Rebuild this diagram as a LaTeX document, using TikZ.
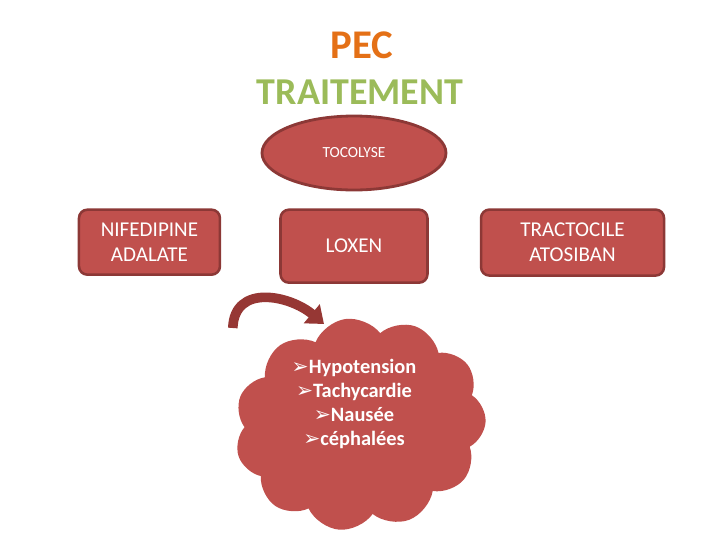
\documentclass[tikz,border=0pt]{standalone}
\usepackage{fontspec}
\setmainfont{Carlito}
\newfontfamily\symfont{DejaVu Sans}
\usetikzlibrary{positioning, arrows.meta, shapes.geometric, shapes.symbols}
\definecolor{boxred}{RGB}{192,80,77}
\definecolor{boxedge}{RGB}{140,56,54}
\definecolor{arrred}{RGB}{150,55,52}
\definecolor{pecorange}{RGB}{228,112,22}
\definecolor{titlegreen}{RGB}{155,187,89}

\begin{document}
\begin{tikzpicture}[
    title/.style={font=\bfseries, align=center},
    redbox/.style={draw=boxedge, fill=boxred, line width=1.8pt, rectangle, rounded corners=6pt, text=white, align=center, font=\fontsize{15}{18}\selectfont},
    redoval/.style={draw=boxedge, fill=boxred, line width=2pt, ellipse, text=white, font=\fontsize{11}{13}\selectfont, minimum width=4.6cm, minimum height=1.85cm},
    effcloud/.style={cloud, cloud puffs=11, cloud puff arc=120, aspect=1.1, fill=boxred, draw=none, minimum width=6.3cm, minimum height=5.3cm},
    curvarr/.style={-{Triangle[width=0.6cm, length=0.4cm]}, line width=0.24cm, arrred}
]
    \useasboundingbox (0,0) rectangle (18,-13.5);

    \node[title, text=pecorange, font=\fontsize{29}{30}\selectfont\bfseries] (pec) at (9.05,-1.125) {PEC};
    \node[title, text=titlegreen, font=\fontsize{27}{30}\selectfont\bfseries] (trt) at (9.0,-2.3) {TRAITEMENT};

    \node[redoval] (toco) at (8.85,-3.825) {TOCOLYSE};

    \node[redbox, minimum width=3.675cm, minimum height=1.825cm] (lox) [below=0.425cm of toco] {LOXEN};
    \node[redbox, minimum width=3.525cm, minimum height=1.625cm, yshift=0.1cm] (nif) [left=1.45cm of lox] {NIFEDIPINE\\ADALATE};
    \node[redbox, minimum width=4.575cm, minimum height=1.65cm, yshift=0.09cm] (trac) [right=1.275cm of lox] {TRACTOCILE\\ATOSIBAN};

    \node[effcloud, rotate=8] (cl) at (9.0,-10.6) {};
    \node[text=white, align=center, font=\fontsize{14.5}{17.2}\selectfont\bfseries] (eff) at (8.85,-10.1) {
        {\symfont\mdseries ➢}Hypotension\\
        {\symfont\mdseries ➢}Tachycardie\\
        {\symfont\mdseries ➢}Nausée\\
        {\symfont\mdseries ➢}céphalées
    };

    \coordinate (arrS) at (5.82,-8.2);
    \coordinate (arrE) at (8.1,-8.1);
    \draw[curvarr] (arrS) to[out=88, in=140, looseness=1.25] (arrE);
\end{tikzpicture}
\end{document}
